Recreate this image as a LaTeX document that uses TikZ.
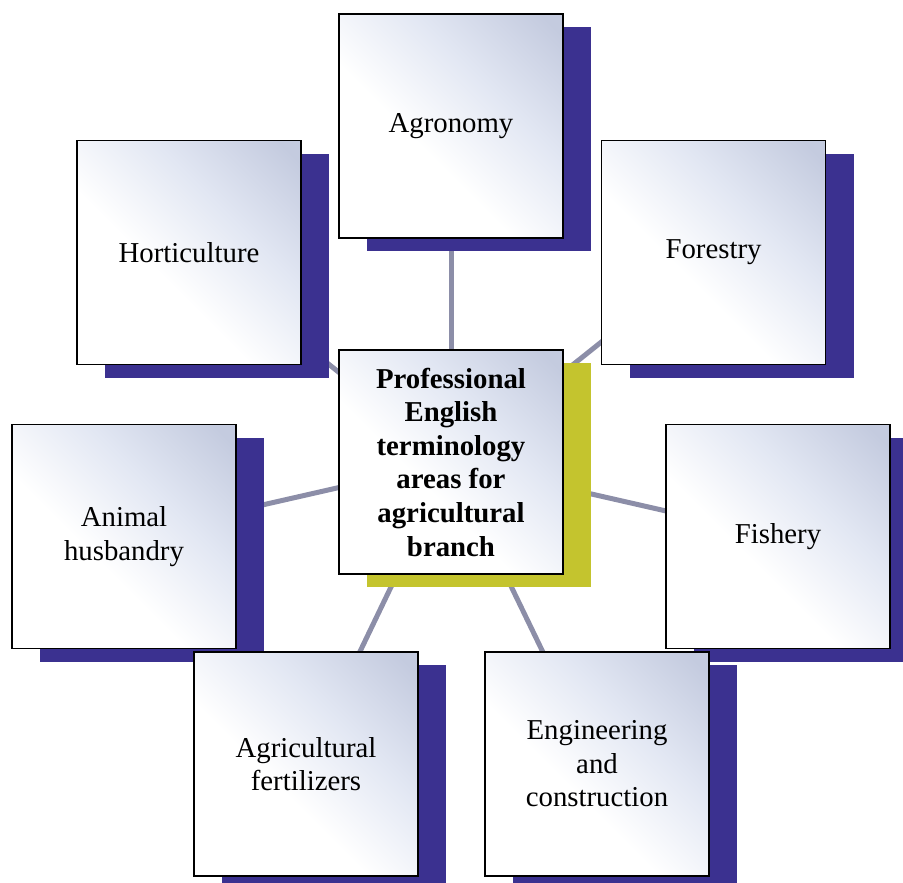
\documentclass[tikz,border=0pt]{standalone}
\usepackage{fontspec}
\setmainfont{Liberation Serif}
\usetikzlibrary{shadows, backgrounds}
\definecolor{areaShadow}{RGB}{59, 49, 144}
\definecolor{coreShadow}{RGB}{196, 196, 46}
\definecolor{spoke}{RGB}{140, 142, 168}
\definecolor{paneTop}{RGB}{196, 203, 223}
\definecolor{paneMid}{RGB}{226, 231, 243}
\pgfdeclareverticalshading{paneshade}{100bp}{color(0bp)=(white);
  color(42bp)=(white); color(62bp)=(paneMid); color(82bp)=(paneTop);
  color(100bp)=(paneTop)}

\begin{document}
\begin{tikzpicture}[x=1pt, y=-1pt, font=\fontsize{28.8}{33.6}\selectfont,
    pane/.style={draw=black, line width=1.5pt, minimum width=224pt,
                 minimum height=224pt, align=center, inner sep=0pt,
                 shading=paneshade, shading angle=-45},
    area/.style={pane, drop shadow={shadow xshift=28pt, shadow yshift=-13pt,
                 fill=areaShadow, opacity=1}},
    core/.style={pane, font=\fontsize{28.8}{33.6}\selectfont\bfseries,
                 drop shadow={shadow xshift=28pt, shadow yshift=-13pt,
                 fill=coreShadow, opacity=1}},
    spokeline/.style={draw=spoke, line width=5pt}]
  \useasboundingbox (0, 0) rectangle (903, 883);

  % Centre
  \node[core] (core) at (451, 462)
    {Professional\\English\\terminology\\areas for\\agricultural\\branch};

  % Areas round it
  \node[area] (agro)  at (451, 126)   {Agronomy};
  \node[area] (horti) at (189, 252.5) {Horticulture};
  \node[area] (fores) at (713.5, 252.5) {Forestry};
  \node[area] (anim)  at (124, 536.5) {Animal\\husbandry};
  \node[area] (fish)  at (778, 536.5) {Fishery};
  \node[area] (fert)  at (306, 764)   {Agricultural\\fertilizers};
  \node[area] (engin) at (597, 764)   {Engineering\\and\\construction};

  % Spokes
  \begin{scope}[on background layer]
    \foreach \a in {agro, horti, fores, anim, fish, fert, engin}
      \draw[spokeline] (core.center) -- (\a.center);
  \end{scope}
\end{tikzpicture}
\end{document}
